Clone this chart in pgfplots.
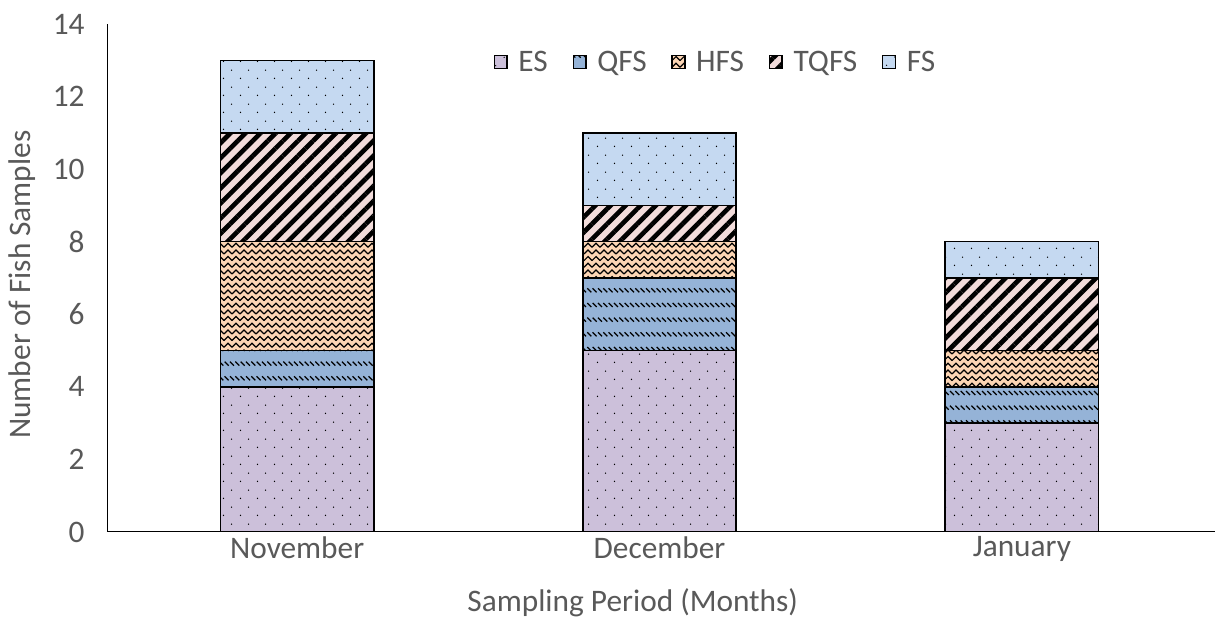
\documentclass[border=0pt]{standalone}
\usepackage{pgfplots}
\pgfplotsset{compat=1.18}
\usepackage{fontspec}
\setmainfont{Carlito}
\usetikzlibrary{patterns,patterns.meta}
\definecolor{esc}{HTML}{CCC0DA}
\definecolor{qfsc}{HTML}{95B3D7}
\definecolor{hfsc}{HTML}{FCD5B4}
\definecolor{tqfsc}{HTML}{F2DCDB}
\definecolor{fsc}{HTML}{C5D9F1}
\definecolor{txt}{HTML}{595959}
\pgfdeclarepatternformonly{sparsedots}{\pgfpointorigin}{\pgfpoint{12.75pt}{12.5pt}}{\pgfpoint{12.75pt}{12.5pt}}{%
  \pgfpathcircle{\pgfpoint{2pt}{2pt}}{0.55pt}%
  \pgfpathcircle{\pgfpoint{8.375pt}{8.25pt}}{0.55pt}%
  \pgfusepath{fill}}
\pgfdeclarepatternformonly{qfspat}{\pgfpoint{-1pt}{-1pt}}{\pgfpoint{5pt}{12pt}}{\pgfpoint{4pt}{11pt}}{%
  \pgfsetlinewidth{0.9pt}%
  \pgfpathmoveto{\pgfpoint{0.5pt}{7pt}}\pgfpathlineto{\pgfpoint{3.5pt}{4pt}}%
  \pgfusepath{stroke}}
\pgfdeclarepatternformonly{hfspat}{\pgfpoint{-1pt}{-1pt}}{\pgfpoint{7pt}{6pt}}{\pgfpoint{6pt}{5pt}}{%
  \pgfsetlinewidth{0.9pt}%
  \pgfpathmoveto{\pgfpoint{0pt}{0.8pt}}\pgfpathlineto{\pgfpoint{3pt}{3.8pt}}\pgfpathlineto{\pgfpoint{6pt}{0.8pt}}%
  \pgfusepath{stroke}}
\pgfplotstableread{
x ES QFS HFS TQFS FS
0 4 1 3 3 2
1 5 2 1 1 2
2 3 1 1 2 1
}\data
\begin{document}
\begin{tikzpicture}
\useasboundingbox (-81pt,-77.25pt) rectangle (843pt,399pt);
\begin{axis}[
  at={(0pt,0pt)}, anchor=south west,
  scale only axis, width=830.25pt, height=381pt,
  ybar stacked, bar width=115pt,
  xmin=-0.522, xmax=2.533, ymin=0, ymax=14,
  ytick={0,2,...,14},
  xtick=data, xticklabels={November,December,January},
  axis x line=bottom, axis y line=left,
  axis line style={-, line width=0.75pt, black},
  major tick length=0pt,
  tick label style={font=\fontsize{23.5}{28}\selectfont, text=txt},
  /pgf/number format/assume math mode=true,
  yticklabel style={xshift=-14pt},
  xticklabel style={yshift=0pt},
  xlabel={Sampling Period (Months)},
  ylabel={Number of Fish Samples},
  label style={font=\fontsize{23.5}{28}\selectfont, text=txt},
  xlabel style={at={(axis description cs:0.474,-0.139)}, anchor=center},
  ylabel style={at={(axis description cs:-0.0777,0.487)}, anchor=center},
  legend columns=-1,
  legend style={draw=none, fill=none, at={(axis description cs:0.549,0.925)}, anchor=center,
    font=\fontsize{23.5}{28}\selectfont, text=txt,
    /tikz/every even column/.append style={column sep=16.5pt},
    /tikz/every odd column/.append style={column sep=6pt}},
  legend image code/.code={\draw[#1] (0pt,-4.75pt) rectangle (9.5pt,4.75pt);},
  every axis plot/.append style={draw=black, line width=1.1pt},
]
\addplot[preaction={fill=esc}, pattern=sparsedots] table[x=x,y=ES]{\data};
\addplot[preaction={fill=qfsc}, pattern=qfspat] table[x=x,y=QFS]{\data};
\addplot[preaction={fill=hfsc}, pattern=hfspat] table[x=x,y=HFS]{\data};
\addplot[preaction={fill=tqfsc}, pattern={Lines[angle=45,distance=8pt,line width=3.5pt]}] table[x=x,y=TQFS]{\data};
\addplot[preaction={fill=fsc}, pattern=sparsedots] table[x=x,y=FS]{\data};
\legend{ES,QFS,HFS,TQFS,FS}
\end{axis}
\end{tikzpicture}
\end{document}
